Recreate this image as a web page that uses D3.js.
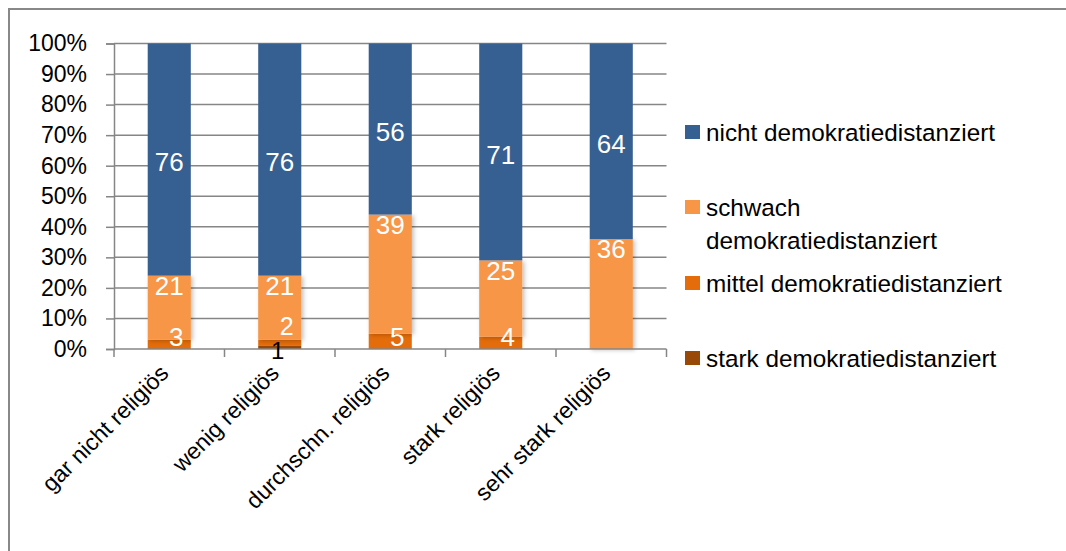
<!DOCTYPE html>
<html>
<head>
<meta charset="utf-8">
<script src="https://cdn.jsdelivr.net/npm/d3@7"></script>
<style>
  html, body { margin: 0; padding: 0; background: #fff; }
  svg { display: block; }
  text { font-family: "Liberation Sans", Arial, sans-serif; }
</style>
</head>
<body>
<svg id="chart" width="1066" height="551"></svg>
<script>
// ---- data ----
const categories = ["gar nicht religiös", "wenig religiös", "durchschn. religiös", "stark religiös", "sehr stark religiös"];
const seriesNames = ["stark demokratiedistanziert", "mittel demokratiedistanziert", "schwach demokratiedistanziert", "nicht demokratiedistanziert"];
const stark   = [0, 1, 0, 0, 0];
const mittel  = [3, 2, 5, 4, 0];
const schwach = [21, 21, 39, 25, 36];
const nicht   = [76, 76, 56, 71, 64];
const yTicks  = [0, 10, 20, 30, 40, 50, 60, 70, 80, 90, 100];
const legendLabels = ["nicht demokratiedistanziert", "schwach demokratiedistanziert", "mittel demokratiedistanziert", "stark demokratiedistanziert"];

const colors = {
  "nicht demokratiedistanziert": "#376092",
  "schwach demokratiedistanziert": "#F79646",
  "mittel demokratiedistanziert": "#E46C0A",
  "stark demokratiedistanziert": "#984807"
};

const rows = categories.map((c, i) => ({
  cat: c,
  "stark demokratiedistanziert": stark[i],
  "mittel demokratiedistanziert": mittel[i],
  "schwach demokratiedistanziert": schwach[i],
  "nicht demokratiedistanziert": nicht[i]
}));

const svg = d3.select("#chart");

// outer frame (extends past right/bottom edge)
svg.append("rect").attr("x", 9).attr("y", 9).attr("width", 1100).attr("height", 600)
  .attr("fill", "none").attr("stroke", "#888").attr("stroke-width", 2);

const defs = svg.append("defs");
const f = defs.append("filter").attr("id", "shadow").attr("x", "-20%").attr("y", "-20%").attr("width", "150%").attr("height", "150%");
f.append("feDropShadow").attr("dx", 2).attr("dy", 1).attr("stdDeviation", 2)
  .attr("flood-color", "#000").attr("flood-opacity", 0.25);

const plot = { left: 114, right: 666.5, top: 43.5, bottom: 349 };

const x = d3.scaleBand().domain(categories).range([plot.left, plot.right]).paddingInner(0.61).paddingOuter(0.305);
const y = d3.scaleLinear().domain([0, 100]).range([plot.bottom, plot.top]);

// gridlines + y axis
const yAxis = d3.axisLeft(y).tickValues(yTicks).tickSize(8).tickFormat(d => d + "%");
const yg = svg.append("g").attr("transform", `translate(${plot.left},0)`).call(yAxis);
yg.select(".domain").attr("stroke", "#868686").attr("stroke-width", 1.5);
yg.selectAll(".tick line").attr("stroke", "#868686").attr("stroke-width", 1.5);
yg.selectAll(".tick text").attr("x", -27).attr("font-size", "23px").attr("fill", "#000")
  .attr("font-family", "Liberation Sans, Arial, sans-serif");

svg.append("g").selectAll("line").data(yTicks.filter(d => d > 0)).join("line")
  .attr("x1", plot.left).attr("x2", plot.right)
  .attr("y1", d => y(d)).attr("y2", d => y(d))
  .attr("stroke", "#868686").attr("stroke-width", 1.5);

// stacked bars
const stack = d3.stack().keys(seriesNames);
const layers = stack(rows);

const barG = svg.append("g");
layers.forEach(layer => {
  const key = layer.key;
  barG.append("g")
    .attr("filter", key === "schwach demokratiedistanziert" ? "url(#shadow)" : null)
    .selectAll("rect").data(layer).join("rect")
    .attr("x", d => x(d.data.cat))
    .attr("width", x.bandwidth())
    .attr("y", d => y(d[1]))
    .attr("height", d => Math.max(0, y(d[0]) - y(d[1])))
    .attr("fill", colors[key]);
});

// x axis line + boundary ticks
svg.append("line").attr("x1", plot.left).attr("x2", plot.right)
  .attr("y1", plot.bottom).attr("y2", plot.bottom)
  .attr("stroke", "#868686").attr("stroke-width", 1.5);
const bounds = categories.map(c => x(c) - x.step() * x.paddingInner() / 2 ).concat([plot.right]);
bounds[0] = plot.left;
svg.append("g").selectAll("line").data(bounds).join("line")
  .attr("x1", d => d).attr("x2", d => d)
  .attr("y1", plot.bottom).attr("y2", plot.bottom + 8)
  .attr("stroke", "#868686").attr("stroke-width", 1.5);

// data labels
const labelG = svg.append("g").attr("text-anchor", "middle");
layers.forEach(layer => {
  const key = layer.key;
  layer.forEach((d, i) => {
    const v = d[1] - d[0];
    if (v <= 0) return;
    const cx = x(d.data.cat) + x.bandwidth() / 2;
    let cy, dx = 0, fill = "#fff", fs = 26;
    if (key === "nicht demokratiedistanziert") {
      cy = (y(d[0]) + y(d[1])) / 2 + 2.5;
    } else if (key === "schwach demokratiedistanziert") {
      cy = y(d[1]) + 10;
    } else if (key === "mittel demokratiedistanziert") {
      cy = Math.min((y(d[0]) + y(d[1])) / 2, plot.bottom - 12);
      if (stark[i] > 0) { cy -= 11; fs = 25; }
      dx = 7;
    } else {
      cy = plot.bottom + 2;
      dx = -2;
      fs = 24;
      fill = "#000";
    }
    labelG.append("text").attr("x", cx + dx).attr("y", cy).attr("dy", "0.35em")
      .attr("font-size", fs + "px")
      .attr("fill", fill).text(v);
  });
});

// category labels
svg.append("g").selectAll("text").data(categories).join("text")
  .attr("transform", d => `translate(${x(d) + x.bandwidth() / 2 - 5},${plot.bottom + 20}) rotate(-45)`)
  .attr("text-anchor", "end").attr("dy", "0.35em")
  .attr("font-size", "23px").attr("fill", "#000").text(d => d);

// legend
const legendItems = [
  { key: legendLabels[0], lines: ["nicht demokratiedistanziert"], y: 132 },
  { key: legendLabels[1], lines: ["schwach", "demokratiedistanziert"], y: 207 },
  { key: legendLabels[2], lines: ["mittel demokratiedistanziert"], y: 283 },
  { key: legendLabels[3], lines: ["stark demokratiedistanziert"], y: 358 }
];
const lg = svg.append("g");
legendItems.forEach(it => {
  lg.append("rect").attr("x", 685).attr("y", it.y - 7).attr("width", 15).attr("height", 14)
    .attr("fill", colors[it.key]);
  const t = lg.append("text").attr("x", 706).attr("y", it.y)
    .attr("font-size", "24.3px").attr("fill", "#000");
  it.lines.forEach((l, j) => {
    t.append("tspan").attr("x", 706).attr("dy", j === 0 ? "0.35em" : "33px").text(l);
  });
});
</script>
</body>
</html>
